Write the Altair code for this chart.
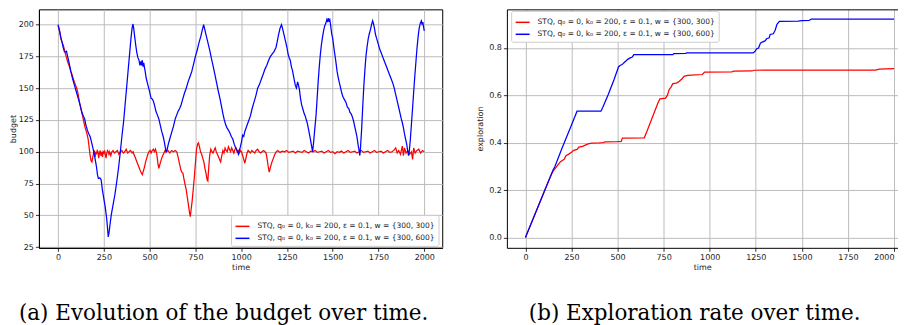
import altair as alt
import pandas as pd

LBL_RED = "STQ, q₀ = 0, k₀ = 200, ε = 0.1, w = {300, 300}"
LBL_BLUE = "STQ, q₀ = 0, k₀ = 200, ε = 0.1, w = {300, 600}"

# ---------------- budget (left panel) ----------------
budget_blue_t = [0, 8, 15, 22, 28, 34, 40, 46, 52, 60, 70, 80, 90, 100, 110, 120, 130, 138, 145, 152,
                 160, 168, 175, 182, 190, 198, 205, 210, 215, 220, 228, 235, 242, 250, 258, 265, 270, 274, 278, 283,
                 290, 300, 310, 320, 330, 340, 350, 358, 366, 374, 382, 390, 398, 404, 409, 413, 418, 424, 430, 436,
                 442, 447, 452, 456, 460, 464, 468, 472, 476, 481, 488, 495, 502, 508, 514, 520, 526, 534, 542, 550,
                 558, 566, 574, 580, 586, 590, 596, 602, 610, 620, 630, 640, 648, 656, 664, 672, 680, 690, 700, 710,
                 720, 730, 740, 750, 760, 770, 780, 788, 795, 800, 808, 818, 828, 838, 846, 856, 866, 876, 884, 892,
                 900, 908, 916, 922, 930, 938, 946, 954, 962, 970, 978, 985, 990, 996, 1002, 1008, 1014, 1020, 1030, 1040,
                 1050, 1060, 1070, 1080, 1090, 1100, 1110, 1120, 1130, 1140, 1150, 1160, 1170, 1180, 1190, 1196, 1204, 1212, 1220, 1226,
                 1234, 1242, 1250, 1256, 1262, 1268, 1274, 1280, 1288, 1296, 1302, 1308, 1312, 1318, 1324, 1330, 1336, 1344, 1350, 1356,
                 1362, 1370, 1378, 1385, 1390, 1396, 1402, 1408, 1414, 1420, 1426, 1432, 1438, 1444, 1450, 1456, 1462, 1468, 1472, 1476,
                 1480, 1484, 1489, 1494, 1500, 1508, 1516, 1524, 1532, 1540, 1548, 1556, 1564, 1572, 1580, 1588, 1594, 1600, 1606, 1614,
                 1620, 1626, 1632, 1638, 1644, 1648, 1652, 1658, 1664, 1670, 1676, 1682, 1688, 1694, 1700, 1706, 1712, 1718, 1722, 1728,
                 1734, 1740, 1748, 1756, 1764, 1772, 1780, 1788, 1796, 1804, 1812, 1820, 1828, 1836, 1844, 1852, 1860, 1868, 1874, 1880,
                 1886, 1892, 1898, 1904, 1910, 1914, 1918, 1924, 1930, 1936, 1942, 1948, 1954, 1960, 1966, 1972, 1978, 1984, 1988, 1992,
                 1996, 2000]
budget_blue_v = [200, 195, 190, 186, 182, 179, 178.5, 179, 175, 170, 163, 157, 152, 147, 142, 137, 131, 128, 126, 121,
                 117, 114, 112, 108, 103, 98, 92, 88, 82, 79, 79.5, 78, 70, 63, 56, 48, 40, 33, 36, 42,
                 50, 58, 66, 76, 87, 100, 114, 124, 137, 150, 163, 176, 189, 197, 200.5, 197, 191, 184, 178, 174,
                 172, 168, 171, 168, 172, 167, 170, 166, 163, 158, 154, 150, 146, 142, 141.5, 140, 137, 132, 129, 126,
                 121, 116, 112, 108, 103, 100, 102, 106, 110, 115, 120, 126, 129, 132, 134, 137, 141, 146, 150, 155,
                 159, 163, 169, 175, 180, 186, 191, 196, 200, 197, 192, 186, 180, 173, 168, 161, 154, 147, 142, 136,
                 130, 125, 121, 119, 117, 115, 112, 110, 106, 103, 101, 98, 101, 104, 108, 113, 112, 116, 120, 124,
                 128, 134, 139, 144, 150, 153, 157, 161, 165, 168, 172, 175, 177, 179, 182, 186, 192, 197, 200, 197,
                 192, 187, 182, 177, 174, 172, 167, 164, 158, 152, 150, 155, 153, 149, 142, 137, 134, 130, 128, 125,
                 122, 116, 110, 104, 100, 108, 118, 127, 140, 154, 166, 176, 184, 190, 195, 199, 201, 204, 202, 205,
                 203, 204, 199, 193, 189, 180, 172, 163, 157, 152, 147, 143, 141, 139, 135, 134, 131, 130, 128, 124,
                 120, 116, 112, 106, 101, 97, 104, 118, 136, 152, 165, 176, 183, 189, 193, 196, 200, 203, 201, 197,
                 192, 189, 185, 181, 178, 175, 172, 169, 166, 163, 160, 157, 154, 150, 145, 140, 135, 130, 126, 123,
                 119, 114, 110, 106, 100, 97, 100, 110, 122, 134, 147, 159, 170, 181, 190, 197, 201, 203, 200, 202,
                 198, 195]

budget_red_t = [0, 8, 15, 22, 30, 38, 46, 54, 62, 70, 78, 86, 94, 102, 110, 118, 126, 134, 140, 146,
                152, 158, 164, 170, 175, 180, 185, 190, 194, 198, 202, 206, 210, 214, 218, 222, 226, 230, 234, 238,
                242, 246, 250, 254, 258, 262, 266, 270, 274, 278, 282, 288, 294, 300, 308, 316, 324, 332, 340, 348,
                356, 364, 372, 380, 388, 396, 404, 410, 414, 420, 428, 436, 444, 452, 460, 466, 472, 478, 484, 490,
                496, 502, 508, 514, 520, 526, 532, 538, 542, 546, 550, 554, 560, 566, 572, 578, 584, 592, 600, 610,
                620, 630, 640, 648, 652, 658, 664, 670, 676, 682, 688, 694, 700, 706, 712, 718, 722, 726, 732, 738,
                744, 750, 756, 762, 767, 772, 778, 784, 790, 796, 802, 808, 814, 818, 822, 828, 834, 840, 846, 852,
                858, 864, 870, 876, 882, 888, 894, 900, 906, 912, 918, 924, 930, 936, 942, 948, 954, 960, 966, 972,
                978, 984, 990, 996, 1002, 1008, 1014, 1020, 1026, 1032, 1038, 1044, 1050, 1058, 1066, 1074, 1082, 1090, 1098, 1106,
                1114, 1122, 1130, 1136, 1142, 1148, 1153, 1160, 1168, 1176, 1184, 1192, 1200, 1212, 1224, 1236, 1248, 1260, 1272, 1284,
                1296, 1308, 1320, 1332, 1344, 1356, 1368, 1380, 1392, 1404, 1416, 1428, 1440, 1452, 1464, 1476, 1488, 1500, 1512, 1524,
                1536, 1548, 1560, 1572, 1584, 1596, 1608, 1620, 1632, 1644, 1656, 1668, 1680, 1692, 1704, 1716, 1728, 1740, 1752, 1764,
                1776, 1788, 1800, 1812, 1824, 1836, 1844, 1852, 1860, 1870, 1880, 1886, 1892, 1900, 1910, 1920, 1930, 1936, 1942, 1950,
                1960, 1970, 1980, 1990, 2000]
budget_red_v = [199, 195, 189, 186, 183, 178, 174, 170, 167, 163, 160, 156, 153, 150, 145, 138, 133, 128, 124, 120,
                117, 114, 110, 103, 97, 93, 92, 96, 99, 101, 96, 100, 98, 101, 100, 95, 99, 101, 97, 100,
                96, 100, 99, 101, 98, 95, 99, 101, 100, 98, 100, 97, 100, 101, 99, 100, 101, 98, 100, 101,
                99, 100, 102, 99, 100, 101, 99, 100, 98, 96, 93, 90, 87, 84, 82, 85, 88, 92, 95, 98,
                100, 101, 99, 101, 102, 100, 102, 99, 95, 90, 87, 89, 92, 95, 97, 99, 101, 100, 101, 99,
                101, 100, 101, 100, 98, 94, 90, 86, 84, 83, 78, 74, 70, 64, 58, 52, 49, 54, 61, 70,
                80, 91, 102, 106, 107, 104, 100, 98, 95, 92, 87, 83, 78, 77, 86, 97, 102, 100, 99, 101,
                103, 100, 98, 96, 94, 92, 97, 101, 99, 103, 101, 100, 104, 102, 100, 103, 101, 99, 102, 103,
                100, 101, 99, 101, 100, 97, 94, 91, 95, 99, 101, 100, 99, 101, 100, 99, 101, 102, 100, 99,
                100, 101, 100, 99, 94, 88, 84, 88, 92, 95, 98, 100, 101, 99.5, 100.5, 100, 101, 99.5, 100, 100.5,
                99, 100.5, 100, 99.5, 101, 100, 99, 100.5, 100, 101, 99.5, 100, 100.5, 99, 100, 101, 99.5, 100, 98.5, 100,
                99.5, 100.5, 99, 100, 101, 99.5, 100, 100.5, 99, 100, 101, 99.5, 100, 100.5, 99, 100, 101, 99.5, 100, 100.5,
                99, 100, 101, 99.5, 100, 101.5, 103, 99, 101, 98, 104.5, 97, 103, 99, 101, 98, 100, 94, 103, 99,
                101, 102, 99, 101, 100]

# ---------------- exploration (right panel) ----------------
expl_red_t = [0, 20, 40, 60, 80, 100, 120, 140, 150, 160, 170, 180, 190, 200, 210, 220, 235, 250, 262, 280,
              290, 310, 325, 340, 360, 400, 420, 432, 500, 520, 526, 645, 660, 680, 700, 720, 730, 760, 770, 780,
              790, 800, 820, 835, 850, 860, 880, 900, 960, 972, 1120, 1130, 1230, 1240, 1900, 1920, 2000]
expl_red_v = [0, 0.038, 0.076, 0.114, 0.152, 0.19, 0.228, 0.265, 0.28, 0.29, 0.30, 0.31, 0.32, 0.325, 0.33, 0.345, 0.352, 0.36, 0.368, 0.372,
              0.382, 0.385, 0.39, 0.395, 0.398, 0.399, 0.40, 0.404, 0.405, 0.406, 0.42, 0.421, 0.45, 0.49, 0.53, 0.57, 0.585, 0.588, 0.60, 0.625,
              0.635, 0.65, 0.652, 0.66, 0.67, 0.68, 0.684, 0.685, 0.688, 0.698, 0.699, 0.702, 0.703, 0.706, 0.707, 0.711, 0.713]

expl_blue_t = [0, 100, 150, 160, 170, 200, 250, 280, 410, 420, 450, 480, 505, 515, 525, 533, 545, 555, 568, 580,
               588, 800, 805, 870, 875, 1235, 1245, 1255, 1265, 1275, 1285, 1300, 1310, 1322, 1328, 1345, 1355, 1365, 1378, 1480,
               1500, 1540, 1550, 2000]
expl_blue_v = [0, 0.19, 0.285, 0.30, 0.32, 0.38, 0.475, 0.533, 0.533, 0.55, 0.605, 0.665, 0.72, 0.727, 0.73, 0.737, 0.745, 0.752, 0.758, 0.762,
               0.772, 0.772, 0.776, 0.777, 0.779, 0.779, 0.785, 0.797, 0.80, 0.82, 0.825, 0.83, 0.84, 0.842, 0.857, 0.86, 0.875, 0.90, 0.912, 0.913,
               0.915, 0.916, 0.922, 0.922]

x_ticks = [0, 250, 500, 750, 1000, 1250, 1500, 1750, 2000]
budget_ticks = [25, 50, 75, 100, 125, 150, 175, 200]
expl_ticks = [0.0, 0.2, 0.4, 0.6, 0.8]

df_b_red = pd.DataFrame({"time": budget_red_t, "value": budget_red_v, "series": LBL_RED})
df_b_blue = pd.DataFrame({"time": budget_blue_t, "value": budget_blue_v, "series": LBL_BLUE})
df_e_red = pd.DataFrame({"time": expl_red_t, "value": expl_red_v, "series": LBL_RED})
df_e_blue = pd.DataFrame({"time": expl_blue_t, "value": expl_blue_v, "series": LBL_BLUE})

FONT = "DejaVu Sans"
LW = 1.25


def color_enc(lx, ly):
    return alt.Color(
        "series:N",
        scale=alt.Scale(domain=[LBL_RED, LBL_BLUE], range=["#ff0000", "#0000ff"]),
        title=None,
        legend=alt.Legend(
            orient="none", legendX=lx, legendY=ly, direction="vertical",
            symbolType="stroke", symbolSize=196, symbolStrokeWidth=1.5,
            labelFont=FONT, labelFontSize=7.5, labelColor="#222222", labelOffset=7,
            padding=3.5, rowPadding=0, fillColor="white", strokeColor="#cccccc",
            cornerRadius=2, labelLimit=400,
        ),
    )


# left panel
xl = alt.X("time:Q", scale=alt.Scale(domain=[-104.6, 2098], nice=False, zero=False),
           axis=alt.Axis(values=x_ticks, title="time", format="d", labelFlush=False,
                         labelOverlap=False, titlePadding=2))
yl = alt.Y("value:Q", scale=alt.Scale(domain=[24.45, 212.0], nice=False, zero=False),
           axis=alt.Axis(values=budget_ticks, title="budget", format="d", titlePadding=1))

left_red = alt.Chart(df_b_red).mark_line(strokeWidth=LW, clip=True).encode(
    x=xl, y=yl, color=color_enc(192.5, 206))
left_blue = alt.Chart(df_b_blue).mark_line(strokeWidth=LW, clip=True).encode(
    x=xl, y=yl, color=color_enc(192.5, 206))
left = alt.layer(left_red, left_blue).properties(
    width=404.2, height=239,
    title=alt.TitleParams("(a) Evolution of the budget over time.", orient="bottom", anchor="middle",
                          frame="group", dx=-17, offset=32, font="DejaVu Serif", fontSize=21.5,
                          fontWeight="normal", color="black"),
)

# right panel
RW = 391.5
x_end = -100.7 + RW / 0.1847
xr = alt.X("time:Q", scale=alt.Scale(domain=[-100.7, x_end], nice=False, zero=False),
           axis=alt.Axis(values=x_ticks, title="time", format="d", labelFlush=False,
                         labelOverlap=False, titlePadding=2,
                         labelAlign={"condition": {"test": "datum.value >= 2000", "value": "right"},
                                     "value": "center"}))
xr_top = alt.X("time:Q", scale=alt.Scale(domain=[-100.7, x_end], nice=False, zero=False),
               axis=alt.Axis(orient="top", labels=False, ticks=False, grid=False, title=None, domain=True))
yr = alt.Y("value:Q", scale=alt.Scale(domain=[-0.0434, 0.963], nice=False, zero=False),
           axis=alt.Axis(values=expl_ticks, title="exploration", format=".1f", titlePadding=4))

right_red = alt.Chart(df_e_red).mark_line(strokeWidth=LW, clip=True).encode(
    x=xr, y=yr, color=color_enc(4.3, 1.5))
right_blue = alt.Chart(df_e_blue).mark_line(strokeWidth=LW, clip=True).encode(
    x=xr_top, y=yr, color=color_enc(4.3, 1.5))
right = alt.layer(right_red, right_blue).resolve_axis(x="independent").properties(
    width=RW, height=239,
    view=alt.ViewBackground(stroke="transparent"),
    title=alt.TitleParams("(b) Exploration rate over time.", orient="bottom", anchor="middle",
                          frame="group", dx=-7.5, offset=32, font="DejaVu Serif", fontSize=21.5,
                          fontWeight="normal", color="black"),
)

chart = alt.hconcat(left, right, spacing=64, bounds="flush").resolve_scale(
    color="independent").properties(padding=0).configure_view(
    stroke="black", strokeWidth=1).configure_axis(
    labelFont=FONT, labelFontSize=8, labelColor="#222222",
    titleFont=FONT, titleFontSize=8, titleFontWeight="normal", titleColor="#222222",
    tickColor="black", tickSize=3.5, tickWidth=0.8, labelPadding=2,
    domainColor="black", domainWidth=1, gridColor="#bcbcbc", gridWidth=1,
)

chart.save("out.html", embed_options={"renderer": "svg", "actions": False})
